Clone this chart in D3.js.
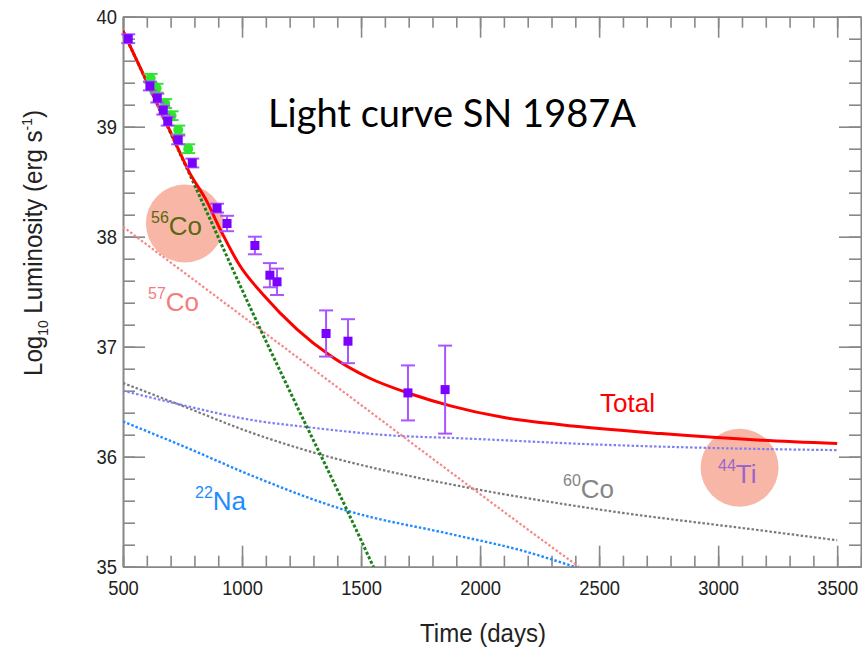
<!DOCTYPE html>
<html><head><meta charset="utf-8">
<script src="https://cdn.jsdelivr.net/npm/d3@7/dist/d3.min.js"></script>
<style>body{margin:0;background:#fff}</style>
</head><body>
<svg id="c" width="862" height="652" xmlns="http://www.w3.org/2000/svg"></svg>
<script>
// ---------- data ----------
const xMajorTicks = [500, 1000, 1500, 2000, 2500, 3000, 3500];
const xMinorTicks = d3.range(500, 3601, 100);
const yMajorTicks = [35, 36, 37, 38, 39, 40];
const yMinorTicks = [35,35.2,35.4,35.6,35.8,36,36.2,36.4,36.6,36.8,37,37.2,37.4,37.6,37.8,38,38.2,38.4,38.6,38.8,39,39.2,39.4,39.6,39.8,40];

const totalCurve = [[500,39.87],[600,39.41],[700,38.95],[780,38.58],[850,38.33],[910,38.06],[990,37.74],[1090,37.47],[1230,37.16],[1370,36.92],[1530,36.72],[1710,36.57],[1880,36.46],[2090,36.36],[2340,36.29],[2760,36.21],[3180,36.15],[3500,36.12]];
const co56Curve = [[500,39.87],[773,38.60],[1068,37.20],[1215,36.53],[1442,35.51],[1560,34.96]];
const co57Curve = [[500,38.09],[1000,37.28],[1500,36.47],[2000,35.66],[2300,35.18],[2440,34.96]];
const ti44Curve = [[500,36.60],[710,36.49],[1050,36.33],[1270,36.27],[1650,36.19],[1890,36.17],[2500,36.11],[3180,36.07],[3500,36.06]];
const co60Curve = [[500,36.67],[740,36.47],[1050,36.21],[1330,36.02],[1650,35.85],[1970,35.71],[2500,35.52],[3180,35.33],[3500,35.24]];
const na22Curve = [[500,36.32],[770,36.08],[1050,35.82],[1440,35.51],[1890,35.29],[2170,35.15],[2410,34.99]];

// observations: [day, log L, error]
const purplePoints = [[522,39.80,0.04],[613,39.37,0.04],[644,39.26,0.04],[669,39.15,0.04],[688,39.05,0.04],[732,38.88,0.04],[791,38.67,0.04],[895,38.26,0.04],[937,38.12,0.07],[1054,37.92,0.08],[1117,37.65,0.11],[1147,37.59,0.12],[1353,37.12,0.21],[1445,37.05,0.20],[1697,36.58,0.25],[1853,36.61,0.40]];
const greenPoints = [[616,39.44,0.04],[641,39.35,0.04],[677,39.21,0.04],[704,39.10,0.04],[732,38.97,0.04],[774,38.80,0.04]];

// ---------- chart ----------
const svg = d3.select("#c");
svg.append("rect").attr("width",862).attr("height",652).attr("fill","#fff");
const X0 = 123, X1 = 861, Y0 = 16.7, Y1 = 566.7;
const x = d3.scaleLinear().domain([500, 3600]).range([X0, X1]);
const y = d3.scaleLinear().domain([35, 40]).range([Y1, Y0]);

svg.append("defs").append("clipPath").attr("id","clip")
  .append("rect").attr("x",X0).attr("y",Y0).attr("width",X1-X0).attr("height",Y1-Y0);

const axisColor = "#888";
function styleAxis(g){
  g.selectAll(".domain").attr("stroke", axisColor).attr("stroke-width",1.6);
  g.selectAll(".tick line").attr("stroke", axisColor).attr("stroke-width",1.6);
  g.selectAll("text").attr("font-family","Liberation Sans, Arial, sans-serif").attr("font-size",20).attr("fill","#222");
}
// bottom
svg.append("g").attr("transform",`translate(0,${Y1})`)
  .call(d3.axisBottom(x).tickValues(xMinorTicks).tickSize(-11).tickSizeOuter(0).tickFormat("")).call(styleAxis);
const xAx = svg.append("g").attr("transform",`translate(0,${Y1})`)
  .call(d3.axisBottom(x).tickValues(xMajorTicks).tickSize(-21).tickSizeOuter(0).tickPadding(14).tickFormat(d3.format("d"))).call(styleAxis);
xAx.selectAll("text").attr("textLength", d => String(d).length * 10.2).attr("lengthAdjust","spacingAndGlyphs");
// top
svg.append("g").attr("transform",`translate(0,${Y0})`)
  .call(d3.axisTop(x).tickValues(xMinorTicks).tickSize(-11).tickSizeOuter(0).tickFormat("")).call(styleAxis);
svg.append("g").attr("transform",`translate(0,${Y0})`)
  .call(d3.axisTop(x).tickValues(xMajorTicks).tickSize(-21).tickSizeOuter(0).tickFormat("")).call(styleAxis);
// left
svg.append("g").attr("transform",`translate(${X0},0)`)
  .call(d3.axisLeft(y).tickValues(yMinorTicks).tickSize(-12).tickSizeOuter(0).tickFormat("")).call(styleAxis);
const yAx = svg.append("g").attr("transform",`translate(${X0},0)`)
  .call(d3.axisLeft(y).tickValues(yMajorTicks).tickSize(-22).tickSizeOuter(0).tickPadding(6).tickFormat(d3.format("d"))).call(styleAxis);
yAx.selectAll("text").attr("textLength", 20.5).attr("lengthAdjust","spacingAndGlyphs");
// right
svg.append("g").attr("transform",`translate(${X1},0)`)
  .call(d3.axisRight(y).tickValues(yMinorTicks).tickSize(-12).tickSizeOuter(0).tickFormat("")).call(styleAxis);
svg.append("g").attr("transform",`translate(${X1},0)`)
  .call(d3.axisRight(y).tickValues(yMajorTicks).tickSize(-22).tickSizeOuter(0).tickFormat("")).call(styleAxis);

// annotation circles (under lines)
const circleFill = "#f8b6a7";
svg.append("circle").attr("cx", x(760)).attr("cy", y(38.12)).attr("r",39).attr("fill",circleFill);
svg.append("circle").attr("cx", x(3090)).attr("cy", y(35.90)).attr("r",39).attr("fill",circleFill);

// curves
const line = d3.line().x(d=>x(d[0])).y(d=>y(d[1])).curve(d3.curveMonotoneX);
const plot = svg.append("g").attr("clip-path","url(#clip)");
function drawCurve(data, color, width, dash){
  plot.append("path").datum(data).attr("d", line).attr("fill","none")
    .attr("stroke", color).attr("stroke-width", width)
    .attr("stroke-dasharray", dash || null);
}
drawCurve(co60Curve, "#7a7a7a", 2.2, "2.5,2");
drawCurve(ti44Curve, "#7f7ff5", 2.2, "2.5,2");
drawCurve(na22Curve, "#1f8bff", 2.4, "2.5,2");
drawCurve(co57Curve, "#f58a8a", 2.2, "2.5,2");
drawCurve(co56Curve, "#1b7f1b", 3, "3,2");
drawCurve(totalCurve, "#ff0000", 3);

// data points
const pts = svg.append("g");
const errColor = "#a855ff";
function errBars(data, color){
  data.forEach(d=>{
    const cx = x(d[0]);
    pts.append("line").attr("x1",cx).attr("x2",cx).attr("y1",y(d[1]+d[2])).attr("y2",y(d[1]-d[2]))
      .attr("stroke",color).attr("stroke-width",2);
    [d[1]+d[2], d[1]-d[2]].forEach(v=>{
      pts.append("line").attr("x1",cx-7).attr("x2",cx+7).attr("y1",y(v)).attr("y2",y(v))
        .attr("stroke",color).attr("stroke-width",2);
    });
  });
}
errBars(greenPoints, "#35e035");
pts.selectAll("circle.g").data(greenPoints).join("circle")
  .attr("cx",d=>x(d[0])).attr("cy",d=>y(d[1])).attr("r",5).attr("fill","#2de62d");
errBars(purplePoints, errColor);
pts.selectAll("rect.p").data(purplePoints).join("rect")
  .attr("x",d=>x(d[0])-4.5).attr("y",d=>y(d[1])-4.5).attr("width",9).attr("height",9).attr("fill","#7a00ff");

// labels
const lf = "Liberation Sans, Arial, sans-serif";
function isoLabel(xp, yp, sup, main, color){
  const t = svg.append("text").attr("x",xp).attr("y",yp).attr("font-family",lf).attr("fill",color);
  t.append("tspan").attr("font-size",16).attr("dy",-12).text(sup);
  t.append("tspan").attr("font-size",26).attr("dy",12).text(main);
}
isoLabel(151, 235, "56", "Co", "#5a680f");
isoLabel(148, 311, "57", "Co", "#f47c7c");
isoLabel(563, 498, "60", "Co", "#858585");
isoLabel(195, 510, "22", "Na", "#1e8cff");
isoLabel(718, 483, "44", "Ti", "#9966cc");
svg.append("text").attr("x",600).attr("y",412).attr("font-family",lf).attr("font-size",26).attr("fill","#ff0000").text("Total");

// title
svg.append("text").attr("x",268).attr("y",127).attr("font-family","Lato, 'Open Sans', sans-serif")
  .attr("font-size",38).attr("fill","#000").attr("textLength",368).attr("lengthAdjust","spacingAndGlyphs")
  .text("Light curve SN 1987A");

// axis titles
svg.append("text").attr("x",483).attr("y",642).attr("text-anchor","middle")
  .attr("font-family",lf).attr("font-size",26).attr("fill","#222")
  .attr("textLength",126).attr("lengthAdjust","spacingAndGlyphs").text("Time (days)");
const yl = svg.append("text").attr("transform","translate(42,243) rotate(-90)").attr("text-anchor","middle")
  .attr("font-family",lf).attr("font-size",26).attr("fill","#222")
  .attr("textLength",266).attr("lengthAdjust","spacingAndGlyphs");
yl.append("tspan").text("Log");
yl.append("tspan").attr("font-size",15).attr("dy",6).text("10");
yl.append("tspan").attr("dy",-6).text(" Luminosity (erg s");
yl.append("tspan").attr("font-size",15).attr("dy",-10).text("-1");
yl.append("tspan").attr("dy",10).text(")");
</script>
</body></html>
